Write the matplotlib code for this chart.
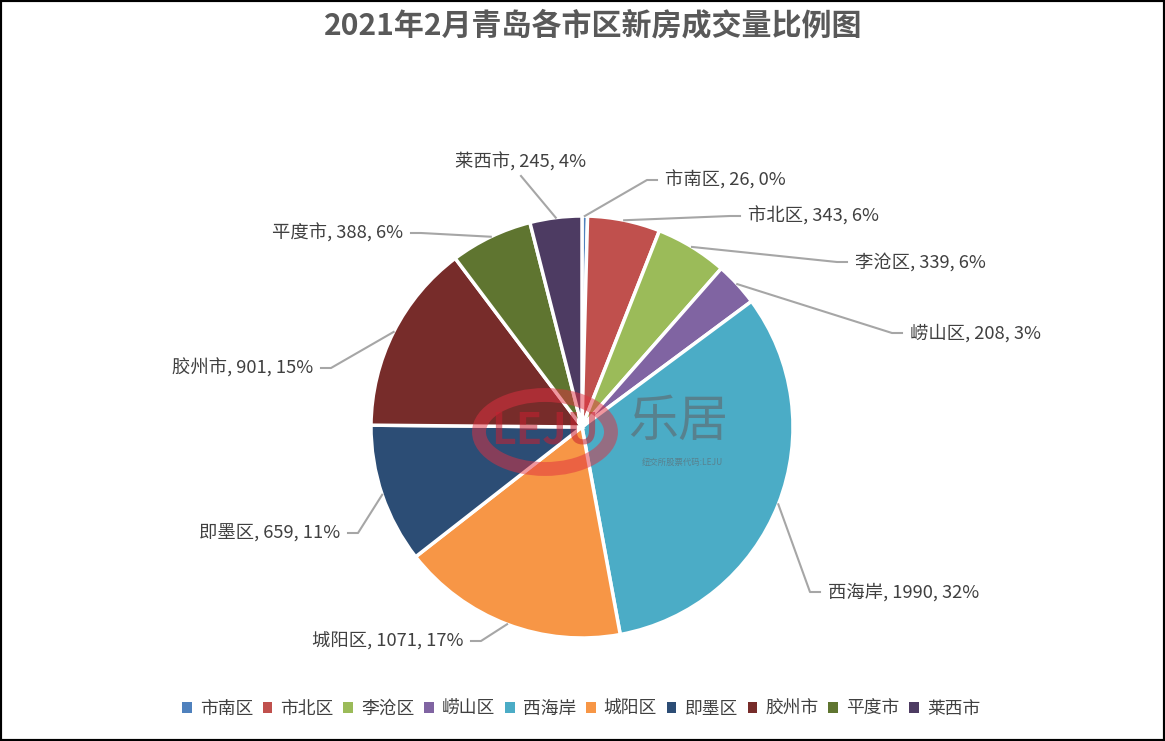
import numpy as np
import matplotlib.pyplot as plt
from matplotlib.patches import Patch, Rectangle, Ellipse

plt.rcParams['font.family'] = ['Noto Sans CJK SC', 'DejaVu Sans']

# data
districts = ['市南区', '市北区', '李沧区', '崂山区', '西海岸', '城阳区', '即墨区', '胶州市', '平度市', '莱西市']
volumes = [26, 343, 339, 208, 1990, 1071, 659, 901, 388, 245]
pct_labels = ['0%', '6%', '6%', '3%', '32%', '17%', '11%', '15%', '6%', '4%']
colors = ['#4F81BD', '#C0504D', '#9BBB59', '#8064A2', '#4BACC6',
          '#F79646', '#2C4D75', '#772C2A', '#5F7530', '#4D3B62']

W, H = 1165, 741
fig = plt.figure(figsize=(W / 100, H / 100), dpi=100)
ax = fig.add_axes([0, 0, 1, 1])

# pie geometry in pixel units (y measured from bottom)
cx, cy, r = 582, H - 427, 211
wedges, _ = ax.pie(volumes, colors=colors, startangle=90, counterclock=False,
                   center=(cx, cy), radius=r,
                   wedgeprops=dict(edgecolor='white', linewidth=2.5))

# label placement (pixels from top): text x, text y, side
label_pos = [(665, 180, 'l'), (748, 216, 'l'), (855, 262, 'l'), (910, 333, 'l'),
             (828, 592, 'l'), (463, 641, 'r'), (340, 533, 'r'), (313, 368, 'r'),
             (403, 233, 'r'), (521, 162, 'c')]

total = sum(volumes)
cum = np.cumsum([0] + volumes)
for i, (name, v, p) in enumerate(zip(districts, volumes, pct_labels)):
    mid = (cum[i] + v / 2) / total
    ang = np.deg2rad(90 - 360 * mid)
    px, py = cx + r * np.cos(ang), cy + r * np.sin(ang)
    tx, ty, side = label_pos[i]
    ty = H - ty
    if side == 'l':
        ex = tx - 8
        ax.plot([px, ex - 10, ex], [py, ty, ty], color='#a6a6a6', lw=1.5, zorder=1)
        ha = 'left'
    elif side == 'r':
        ex = tx + 8
        ax.plot([px, ex + 10, ex], [py, ty, ty], color='#a6a6a6', lw=1.5, zorder=1)
        ha = 'right'
    else:
        ax.plot([px, tx], [py, ty - 14], color='#a6a6a6', lw=1.5, zorder=1)
        ha = 'center'
    ax.text(tx, ty, f'{name}, {v}, {p}', ha=ha, va='center', fontsize=13.2, color='#404040')

# watermark
ax.add_patch(Ellipse((545, H - 432), 132, 74, fill=False, ec='#e03040', lw=10, alpha=0.5, zorder=3))
ax.text(545, H - 430, 'LEJU', ha='center', va='center', fontsize=31, fontweight='bold',
        color='#c82030', alpha=0.55, zorder=3)
ax.text(678, H - 422, '乐居', ha='center', va='center', fontsize=36, color='#5a7a85', alpha=0.85, zorder=3)
ax.text(682, H - 462, '纽交所股票代码:LEJU', ha='center', va='center', fontsize=6,
        color='#5a7a85', alpha=0.85, zorder=3)

ax.set_xlim(0, W)
ax.set_ylim(0, H)
ax.set_aspect('equal')
ax.axis('off')

fig.text(593 / W, 1 - 25 / H, '2021年2月青岛各市区新房成交量比例图', ha='center', va='center',
         fontsize=21.6, fontweight='bold', color='#595959')

handles = [Patch(facecolor=c, edgecolor='none') for c in colors]
fig.legend(handles, districts, loc='center', bbox_to_anchor=(581 / W, 1 - 709 / H), ncol=10,
           frameon=False, fontsize=12.8, handlelength=0.55, handleheight=0.6,
           handletextpad=0.45, columnspacing=0.55, labelcolor='#404040')

fig.add_artist(Rectangle((0, 0), 1, 1, transform=fig.transFigure, fill=False,
                         ec='black', lw=3))

fig.savefig('out.png', dpi=100)
